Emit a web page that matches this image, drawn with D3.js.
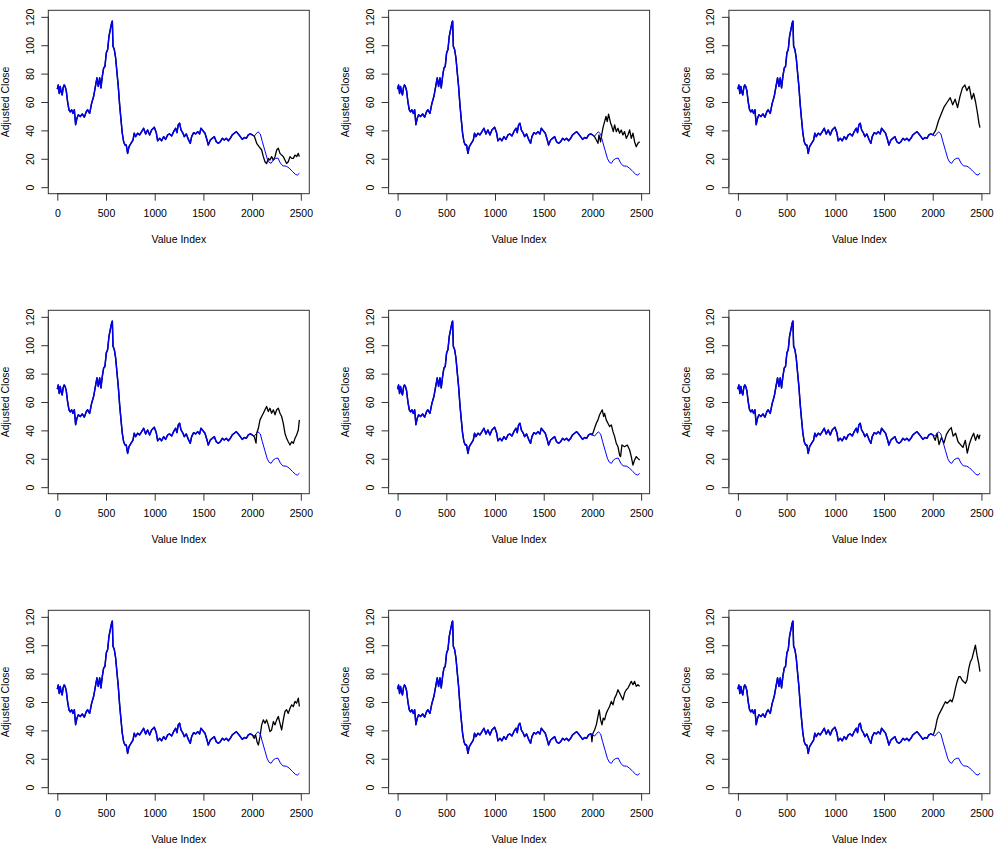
<!DOCTYPE html>
<html>
<head>
<meta charset="utf-8">
<script src="https://cdn.jsdelivr.net/npm/d3@7"></script>
<style>
  html, body { margin: 0; padding: 0; background: #fff; }
  svg { display: block; }
  text { font-family: "Liberation Sans", Arial, Helvetica, sans-serif; fill: #000; }
</style>
</head>
<body>
<svg id="chart" width="1005" height="850"></svg>
<script>
// ---- data ----
const xTicks = [0, 500, 1000, 1500, 2000, 2500];
const yTicks = [0, 20, 40, 60, 80, 100, 120];
const xTitle = "Value Index";
const yTitle = "Adjusted Close";

const actualIndex = [0,10,20,30,40,50,60,70,80,92,106,120,133,147,161,175,188,202,216,236,257,277,298,311,332,352,373,394,407,421,435,448,462,476,489,503,517,530,544,558,565,572,585,599,613,626,640,654,667,681,695,708,722,736,756,777,790,804,825,845,866,886,907,927,948,968,996,1016,1030,1051,1071,1092,1112,1133,1153,1174,1194,1215,1228,1242,1256,1270,1290,1304,1324,1345,1365,1379,1400,1420,1441,1461,1475,1495,1516,1537,1550,1571,1591,1612,1632,1653,1673,1694,1714,1735,1756,1776,1796,1817,1838,1858,1879,1899,1920,1940,1961,1981,2002,2022,2040,2060,2084,2105,2130,2155,2175,2195,2215,2240,2265,2290,2315,2350,2380,2415,2445,2465,2485];
const actualClose = [69,72,66,71,67,65,70,72,71,68,60,54.5,53,54.5,52,54.5,44,48.6,51,49.8,51.6,49.3,53.3,54.5,52,59,64,72,77,71,77,70,78,84,85,94.6,97,106,111,115.8,117,99.3,97,91,80.4,71,58,47.4,38,32,29.7,29.7,23.8,28.5,30.9,33.2,38,35.6,38,36.8,39.1,41.5,37.5,40.3,36.8,40.3,42.2,38.4,32.7,34.4,32.7,35.6,33.7,36.8,37.5,36.1,39.1,41.5,38.4,43.9,45,40.3,38,35.6,37.5,33.7,30.9,35.6,38.4,37.5,39.1,37.5,41.5,39.8,38,33.2,29.7,33.2,34.4,35.6,32,30.9,32,34.4,33.2,34.4,32.7,34.4,36.8,38,39.1,37.5,35.6,33.7,35,34.4,36.8,37.5,36.8,36,37.5,39,37.5,32,26,20,17.5,16.8,19,20.2,20.5,17,15,14.8,13.5,11,9,8.5,9.8];

// simulated continuations, one per panel: [index, value]
const sim1 = [[2002,36.8],[2022,36],[2047,30.9],[2071,28.5],[2098,26.2],[2115,21.5],[2132,17.9],[2149,16.7],[2166,20.3],[2183,19.1],[2200,21.5],[2218,19],[2235,21.5],[2252,26.2],[2269,27.4],[2286,23.8],[2303,22.6],[2320,21.5],[2337,19.1],[2354,16.7],[2371,17.9],[2389,21.5],[2406,20.3],[2423,20.3],[2440,22.6],[2457,21.5],[2474,23.8],[2485,21.5]];
const sim2 = [[2002,36.8],[2022,35.6],[2040,33.2],[2057,30.9],[2067,36.8],[2084,32],[2098,38],[2111,42.7],[2125,46.2],[2139,49.8],[2152,46.2],[2166,51.5],[2187,45],[2200,42.7],[2214,39.1],[2228,43.9],[2245,39.1],[2262,41.5],[2279,38],[2296,40.3],[2313,36.8],[2330,39.1],[2348,34.4],[2365,36.8],[2382,40.3],[2399,34.4],[2416,38],[2433,32],[2450,28.5],[2467,30.9],[2485,32]];
const sim3 = [[2002,36.8],[2030,40],[2060,47],[2090,52],[2120,57],[2150,60],[2180,63],[2205,58],[2230,62],[2255,56],[2280,64],[2305,70],[2330,72],[2350,68],[2375,71],[2400,62],[2420,66],[2440,60],[2460,52],[2475,45],[2485,42]];
const sim4 = [[2002,36.8],[2022,35.6],[2040,31],[2047,38],[2064,41.5],[2081,47.4],[2098,49.8],[2115,52.1],[2132,54.5],[2149,56.8],[2166,53.3],[2183,55.6],[2200,52.1],[2218,54.5],[2235,51],[2252,54.5],[2269,55.6],[2286,52.1],[2303,49.8],[2320,45],[2337,38],[2354,34.4],[2371,32],[2389,29.7],[2406,32],[2423,30.9],[2440,34.4],[2457,36.8],[2474,40.3],[2485,47.4]];
const sim5 = [[1988,37],[2005,38],[2022,41.5],[2040,45],[2057,47.4],[2074,51],[2091,53.3],[2101,54.5],[2115,49.8],[2125,52],[2142,47.4],[2159,45],[2176,42.7],[2194,43.9],[2211,39.1],[2228,35.6],[2245,30.9],[2262,28.5],[2279,22.6],[2289,21.5],[2303,29.7],[2330,28.5],[2358,29.7],[2382,26.2],[2399,21.5],[2416,15.6],[2433,19.1],[2450,21.5],[2467,20.3],[2485,19.1]];
const sim6 = [[2002,36.8],[2025,33],[2045,38],[2065,30],[2090,35],[2115,31],[2140,37],[2165,40],[2190,42],[2210,36],[2235,38],[2260,32],[2285,30],[2310,28],[2335,33],[2355,24],[2375,30],[2400,35],[2420,38],[2440,33],[2460,37],[2475,34],[2485,37]];
const sim7 = [[2002,36.8],[2022,34.4],[2036,36.8],[2050,32],[2064,29.7],[2081,35.6],[2098,43.9],[2115,47.4],[2132,45],[2149,47.4],[2166,43.9],[2183,39.1],[2200,40.3],[2218,46.2],[2235,43.9],[2252,47.4],[2269,49.8],[2286,45],[2303,40.3],[2320,47.4],[2337,53.3],[2354,54.5],[2371,52],[2389,55.6],[2406,58],[2423,56.8],[2440,60.4],[2457,59.2],[2474,62.7],[2485,56.8]];
const sim8 = [[1988,37],[1995,32],[2005,38],[2022,40.3],[2040,43.9],[2057,49.8],[2070,54.5],[2084,47.4],[2098,43.9],[2111,48.6],[2125,47.4],[2142,52],[2159,54.5],[2176,56.8],[2194,60.4],[2211,58],[2228,62.7],[2245,65],[2262,68.6],[2279,66.3],[2296,63.9],[2313,61.5],[2330,66.3],[2348,68.6],[2365,69.8],[2382,72.2],[2399,74.5],[2416,72.2],[2433,74.5],[2450,71],[2467,72.2],[2485,71]];
const sim9 = [[2002,36.8],[2010,37.5],[2027,41.5],[2044,47.3],[2061,50.8],[2079,53.2],[2096,55.5],[2113,57.9],[2130,60.2],[2147,59],[2164,60.2],[2181,61.4],[2198,60.2],[2215,63.8],[2233,69.6],[2250,74.3],[2267,77.8],[2284,77.8],[2301,75.5],[2318,74.3],[2335,73.1],[2352,75.5],[2370,83.7],[2387,88.4],[2404,90.7],[2421,95.4],[2438,100.1],[2455,93],[2472,87.2],[2485,81.4]];
const simulations = [sim1, sim2, sim3, sim4, sim5, sim6, sim7, sim8, sim9];

// ---- layout ----
const svg = d3.select("#chart");
const BOX_W = 261, BOX_H = 183.4;
const COL_STEP = 340.3, ROW_STEP = 300;
const LEFT0 = 48.3, TOP0 = 10.3;
const FS = 10.5;

const actual = actualIndex.map((d, i) => [d, actualClose[i]]);
const splitAt = 2002;
const actualHead = actual.filter(d => d[0] <= splitAt);
const actualTail = actual.filter(d => d[0] >= splitAt);

const x = d3.scaleLinear().domain([-92.4, 2587]).range([0, BOX_W]);
const y = d3.scaleLinear().domain([-4.6, 124.6]).range([BOX_H, 0]);
const line = d3.line().x(d => x(d[0])).y(d => y(d[1]));

simulations.forEach((sim, k) => {
  const r = Math.floor(k / 3), c = k % 3;
  const g = svg.append("g")
    .attr("transform", `translate(${LEFT0 + c * COL_STEP},${TOP0 + r * ROW_STEP})`);

  // black: full series (actual history + simulated path)
  g.append("path").datum(actualHead.concat(sim))
    .attr("fill", "none").attr("stroke", "#000").attr("stroke-width", 1.3)
    .attr("stroke-linejoin", "round").attr("d", line);
  // blue actual on top
  g.append("path").datum(actualHead)
    .attr("fill", "none").attr("stroke", "#0000ee").attr("stroke-width", 1.5)
    .attr("stroke-linejoin", "round").attr("d", line);
  g.append("path").datum(actualTail)
    .attr("fill", "none").attr("stroke", "#0000ff").attr("stroke-width", 1)
    .attr("stroke-linejoin", "round").attr("d", line);

  // box
  g.append("rect").attr("x", 0).attr("y", 0).attr("width", BOX_W).attr("height", BOX_H)
    .attr("fill", "none").attr("stroke", "#333").attr("stroke-width", 1);

  // x axis
  const xa = g.append("g").attr("transform", `translate(0,${BOX_H})`)
    .call(d3.axisBottom(x).tickValues(xTicks).tickSize(7).tickSizeOuter(0).tickPadding(9).tickFormat(d3.format("d")));
  xa.select(".domain").attr("d", `M${x(xTicks[0])},0H${x(xTicks[xTicks.length-1])}`).attr("stroke", "#333");
  xa.selectAll(".tick line").attr("stroke", "#333");
  xa.selectAll("text").attr("font-size", FS).attr("font-family", "Liberation Sans, Arial, sans-serif");

  // y axis
  const ya = g.append("g")
    .call(d3.axisLeft(y).tickValues(yTicks).tickSize(7).tickSizeOuter(0).tickFormat(d3.format("d")));
  ya.select(".domain").attr("d", `M0,${y(yTicks[0])}V${y(yTicks[yTicks.length-1])}`).attr("stroke", "#333");
  ya.selectAll(".tick line").attr("stroke", "#333");
  ya.selectAll(".tick text")
    .attr("x", null).attr("dy", null)
    .attr("text-anchor", "middle")
    .attr("font-size", FS).attr("font-family", "Liberation Sans, Arial, sans-serif")
    .attr("transform", "translate(-14.5,0) rotate(-90)");

  // titles
  g.append("text").attr("x", BOX_W / 2).attr("y", BOX_H + 49.3)
    .attr("text-anchor", "middle").attr("font-size", FS).text(xTitle);
  g.append("text")
    .attr("transform", `translate(-39.3,${BOX_H / 2}) rotate(-90)`)
    .attr("text-anchor", "middle").attr("font-size", FS).text(yTitle);
});
</script>
</body>
</html>
